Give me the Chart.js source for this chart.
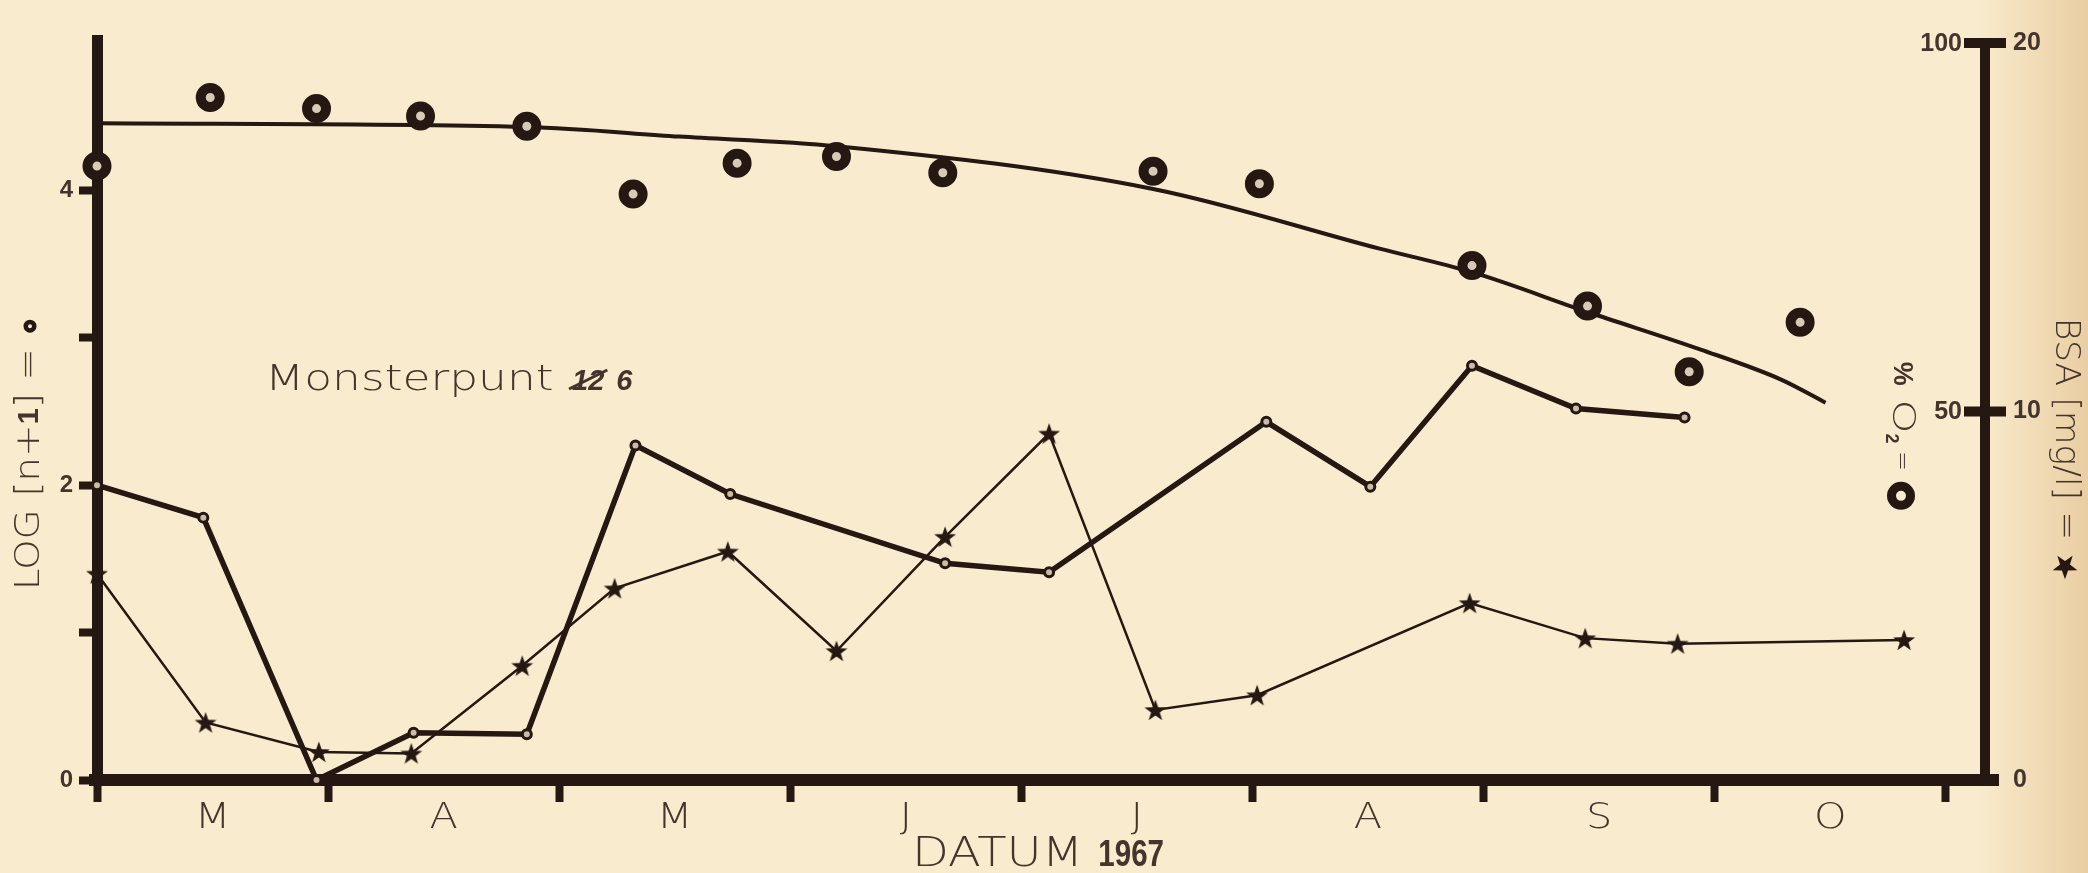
<!DOCTYPE html>
<html>
<head>
<meta charset="utf-8">
<script src="https://cdn.jsdelivr.net/npm/chart.js@4.4.1/dist/chart.umd.min.js"></script>
<style>
  html,body{margin:0;padding:0;background:#f9ebcd;}
  canvas{display:block;}
</style>
</head>
<body>
<canvas id="chart" width="2088" height="873"></canvas>
<script>
/* ---------- data ---------- */
const months   = ['M','A','M','J','J','A','S','O'];   // Mar … Oct 1967
const logTicks = [0,1,2,3,4];
const o2Ticks  = [0,50,100];
const bsaTicks = [0,10,20];

// x = months after 1 March
const logX = [0, 0.46, 0.95, 1.37, 1.86, 2.33, 2.74, 3.67, 4.12, 5.06, 5.51, 5.95, 6.40, 6.87];
const logN = [2.0, 1.78, 0.0, 0.32, 0.31, 2.27, 1.94, 1.47, 1.41, 2.43, 1.99, 2.81, 2.52, 2.46];

const bsaX = [0, 0.47, 0.96, 1.36, 1.84, 2.24, 2.73, 3.20, 3.67, 4.12, 4.58, 5.02, 5.94, 6.44, 6.84, 7.82];
const bsa  = [5.6, 1.56, 0.76, 0.72, 3.1, 5.2, 6.2, 3.5, 6.6, 9.4, 1.9, 2.3, 4.8, 3.85, 3.7, 3.8];

const o2X = [0, 0.49, 0.95, 1.40, 1.86, 2.32, 2.77, 3.20, 3.66, 4.57, 5.03, 5.95, 6.45, 6.89, 7.37];
const o2  = [83.3, 92.6, 91.1, 90.1, 88.7, 79.5, 83.7, 84.6, 82.4, 82.6, 80.9, 69.8, 64.3, 55.4, 62.1];

const trendX = [0, 1.86, 2.52, 3.20, 4.57, 5.55, 5.95, 6.45, 6.94, 7.29, 7.48];
const trend  = [89.1, 88.6, 87.3, 86.0, 80.2, 72.1, 68.9, 63.5, 58.4, 54.3, 51.2];

/* ---------- style ---------- */
const ink   = '#251712';
const txt   = '#43342d';
const paper = '#f9ebcd';
const LIGHT = '"DejaVu Sans"';
const BOLD  = '"Liberation Sans"';
const pts = (xs, ys) => xs.map((x,i) => ({x, y: ys[i]}));

function starPath(ctx, cx, cy, R, r){
  ctx.beginPath();
  for(let i=0;i<10;i++){
    const a = -Math.PI/2 + i*Math.PI/5, rr = i%2 ? r : R;
    ctx.lineTo(cx + rr*Math.cos(a), cy + rr*Math.sin(a));
  }
  ctx.closePath();
}
const starImg = document.createElement('canvas');
starImg.width = starImg.height = 24;
{ const c = starImg.getContext('2d'); c.fillStyle = ink; starPath(c, 12, 13, 11.5, 4.6); c.fill(); }

// row of text pieces / symbols centred on (x,y) in the current transform; sx = horizontal stretch
function runs(ctx, parts, x, y){
  let w = 0;
  parts.forEach(p => {
    if(p.ring) p.w = p.ring*2 + 6;
    else if(p.star) p.w = p.star*2 + 4;
    else { ctx.font = p.f; p.w = ctx.measureText(p.t).width * (p.sx||1); }
    w += p.w;
  });
  let cx = x - w/2;
  parts.forEach(p => {
    const mid = cx + p.w/2;
    if(p.ring){
      ctx.beginPath(); ctx.arc(mid, y, p.ring - p.lw/2, 0, Math.PI*2);
      ctx.lineWidth = p.lw; ctx.strokeStyle = ink; ctx.stroke();
    } else if(p.star){
      ctx.save(); ctx.translate(mid, y); ctx.rotate(p.rot||0);
      ctx.fillStyle = ink; starPath(ctx, 0, 0, p.star, p.star*0.4); ctx.fill(); ctx.restore();
    } else {
      ctx.save(); ctx.translate(cx, y + (p.dy||0)); ctx.scale(p.sx||1, 1);
      ctx.font = p.f; ctx.fillStyle = p.c || txt;
      ctx.textAlign = 'left'; ctx.textBaseline = 'middle';
      ctx.fillText(p.t, 0, 0);
      ctx.restore();
    }
    cx += p.w;
  });
  return w;
}

/* ---------- plugins ---------- */
const paperBg = {
  id:'paperBg',
  beforeDraw(chart){
    const {ctx, width, height} = chart;
    ctx.save();
    ctx.fillStyle = paper; ctx.fillRect(0,0,width,height);
    const g = ctx.createLinearGradient(width-110, 0, width, 0);
    g.addColorStop(0, 'rgba(214,170,110,0)');
    g.addColorStop(1, 'rgba(214,170,110,0.45)');
    ctx.fillStyle = g; ctx.fillRect(width-110, 0, 110, height);
    ctx.restore();
  }
};

const decor = {
  id:'decor',
  afterDraw(chart){
    const {ctx, chartArea:a, scales} = chart;
    const yO2 = scales.yO2, xs = scales.x;
    ctx.save();

    // axis overshoot as drawn by hand: left axis a bit above the top, base line past both ends
    ctx.fillStyle = ink;
    ctx.fillRect(a.left - 5, a.top - 8, 11, 10);
    ctx.fillRect(a.left - 8, a.bottom - 6, 10, 12);
    ctx.fillRect(a.right, a.bottom - 6, 14, 12);

    // crossing bars + inner labels of the O2 scale
    o2Ticks.filter(v => v > 0).forEach(v => {
      const y = yO2.getPixelForValue(v);
      ctx.fillRect(a.right - 21, y - 5, 42, 10);
    });
    ctx.font = `bold 25px ${BOLD}`; ctx.fillStyle = txt;
    ctx.textAlign = 'right'; ctx.textBaseline = 'middle';
    o2Ticks.filter(v => v > 0).forEach(v => ctx.fillText(String(v), a.right - 23, yO2.getPixelForValue(v) + 1));

    // month letters between the month ticks
    months.forEach((m, i) => {
      runs(ctx, [{t:m, f:`200 36px ${LIGHT}`, sx:1.15}], xs.getPixelForValue(i + 0.5), a.bottom + 39);
    });

    // left title
    ctx.save();
    ctx.translate(a.left - 67, (a.top + a.bottom)/2 + 42);
    ctx.rotate(-Math.PI/2);
    runs(ctx, [
      {t:'LOG [n+', f:`200 33px ${LIGHT}`, sx:1.18},
      {t:'1', f:`bold 29px ${BOLD}`},
      {t:'] = ', f:`200 33px ${LIGHT}`, sx:1.18},
      {ring:6.5, lw:4.5}
    ], 0, 0);
    ctx.restore();

    // %O2 title
    ctx.save();
    ctx.translate(a.right - 84, yO2.getPixelForValue(46.5));
    ctx.rotate(Math.PI/2);
    runs(ctx, [
      {t:'%', f:`bold 27px ${BOLD}`},
      {t:' O', f:`200 32px ${LIGHT}`, sx:1.35},
      {t:'2', f:`bold 18px ${BOLD}`, dy:10},
      {t:' = ', f:`200 24px ${LIGHT}`},
      {ring:14, lw:9}
    ], 0, 0);
    ctx.restore();

    // BSA title
    ctx.save();
    ctx.translate(a.right + 80, (a.top + a.bottom)/2 + 38);
    ctx.rotate(Math.PI/2);
    runs(ctx, [
      {t:'BSA [mg/l] = ', f:`200 33px ${LIGHT}`, sx:1.05},
      {star:13, rot:Math.PI/2}
    ], 0, 0);
    ctx.restore();

    // sample point note
    let x = a.left + 168, y = a.top + 347;
    ctx.save(); ctx.translate(x, y); ctx.scale(1.3, 1);
    ctx.font = `200 35px ${LIGHT}`; ctx.fillStyle = txt;
    ctx.textAlign = 'left'; ctx.textBaseline = 'alphabetic';
    const wM = ctx.measureText('Monsterpunt ').width;
    ctx.fillText('Monsterpunt', 0, 0);
    ctx.restore();
    x += wM * 1.3 + 4;
    ctx.font = `italic bold 29px ${BOLD}`; ctx.fillStyle = txt;
    ctx.textAlign = 'left'; ctx.textBaseline = 'alphabetic';
    ctx.fillText('12', x, y);
    const w12 = ctx.measureText('12').width;
    ctx.strokeStyle = txt; ctx.lineWidth = 3;
    ctx.beginPath(); ctx.moveTo(x - 3, y - 1); ctx.lineTo(x + w12 + 3, y - 20); ctx.stroke();
    ctx.fillText('6', x + w12 + 12, y);

    // x title
    runs(ctx, [
      {t:'DATUM ', f:`200 40px ${LIGHT}`, sx:1.2},
      {t:'1967', f:`bold 36px ${BOLD}`, sx:0.82}
    ], (a.left + a.right)/2 - 3, a.bottom + 76);

    ctx.restore();
  }
};

/* ---------- chart ---------- */
const tickList = vals => s => { s.ticks = vals.map(v => ({value:v})); };

new Chart(document.getElementById('chart').getContext('2d'), {
  type:'line',
  data:{
    datasets:[
      {
        label:'O2 punten', yAxisID:'yO2', data:pts(o2X, o2), showLine:false,
        pointRadius:9.5, pointBorderWidth:10, pointBorderColor:ink,
        pointBackgroundColor:'#d8cbb6', clip:false, order:0
      },
      {
        label:'LOG [n+1]', yAxisID:'yLog', data:pts(logX, logN),
        borderColor:ink, borderWidth:5.5, tension:0,
        pointRadius:4.5, pointBorderWidth:3, pointBorderColor:ink,
        pointBackgroundColor:'#cbbca5', clip:false, order:1
      },
      {
        label:'BSA', yAxisID:'yBsa', data:pts(bsaX, bsa),
        borderColor:ink, borderWidth:2.5, tension:0,
        pointStyle:starImg, pointRadius:10, clip:false, order:2
      },
      {
        label:'O2 verloop', yAxisID:'yO2', data:pts(trendX, trend),
        borderColor:ink, borderWidth:4, pointRadius:0,
        cubicInterpolationMode:'monotone', clip:false, order:3
      }
    ]
  },
  options:{
    responsive:false,
    animation:false,
    devicePixelRatio:1,
    layout:{padding:{top:27, left:0, right:0, bottom:0}},
    plugins:{legend:{display:false}, tooltip:{enabled:false}},
    scales:{
      x:{
        type:'linear', position:'bottom', min:0, max:8.17,
        afterBuildTicks: tickList([0,1,2,3,4,5,6,7,8]),
        afterFit: s => { s.height = 93; },
        border:{color:ink, width:12},
        grid:{drawOnChartArea:false, tickLength:22, tickWidth:8, tickColor:ink},
        ticks:{autoSkip:false, maxRotation:0, callback: () => ''}
      },
      yLog:{
        type:'linear', position:'left', min:0, max:5,
        afterBuildTicks: tickList(logTicks),
        afterFit: s => { s.width = 97; },
        border:{color:ink, width:11},
        grid:{drawOnChartArea:false, tickLength:18, tickWidth:8, tickColor:ink},
        ticks:{
          padding:6, color:txt, font:{family:'Liberation Sans', size:24, weight:'bold'},
          callback: v => v % 2 ? '' : String(v)
        }
      },
      yO2:{
        type:'linear', position:'right', min:0, max:100, display:false
      },
      yBsa:{
        type:'linear', position:'right', min:0, max:20,
        afterBuildTicks: tickList(bsaTicks),
        afterFit: s => { s.width = 103; },
        border:{color:ink, width:10},
        grid:{drawOnChartArea:false, drawTicks:false},
        ticks:{
          padding:28, color:txt, font:{family:'Liberation Sans', size:25, weight:'bold'},
          callback: v => String(v)
        }
      }
    }
  },
  plugins:[paperBg, decor]
});
</script>
</body>
</html>
